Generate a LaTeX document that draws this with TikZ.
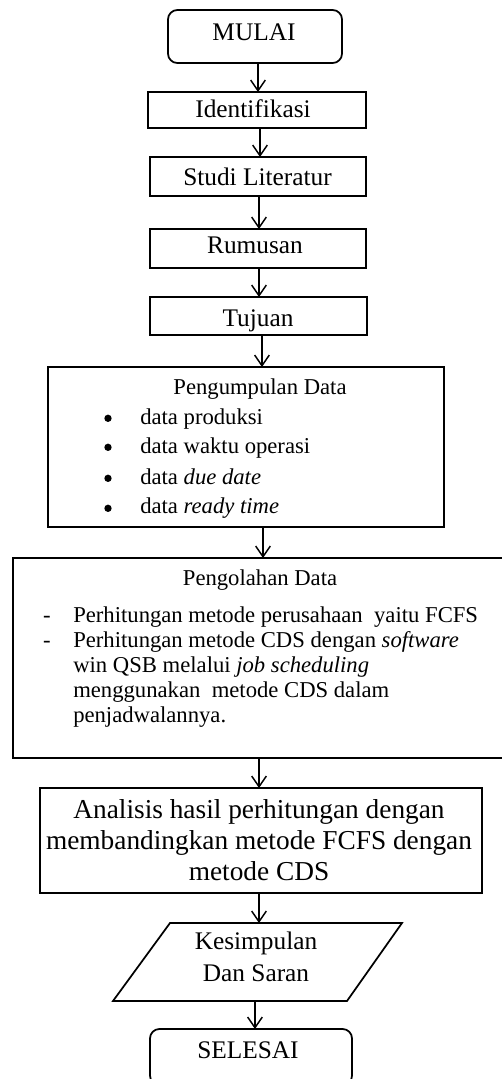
\documentclass[tikz,border=0pt]{standalone}
\usepackage{fontspec}
\setmainfont{Liberation Serif}
\usetikzlibrary{arrows.meta,calc}
\begin{document}
\begin{tikzpicture}[x=0.75pt,y=-0.75pt,
  box/.style={draw, line width=1.3pt, inner sep=0pt, outer sep=0pt},
  rbox/.style={box, rounded corners=7pt},
  lbl/.style={anchor=base, inner sep=0pt, font=\fontsize{19}{22}\selectfont},
  big/.style={anchor=base, inner sep=0pt, font=\fontsize{20.5}{24}\selectfont},
  hdr/.style={anchor=base, inner sep=0pt, font=\fontsize{17}{20}\selectfont},
  item/.style={anchor=base west, inner sep=0pt, font=\fontsize{17}{20}\selectfont},
  dot/.style={circle, fill=black, inner sep=0pt, minimum size=5.5pt},
  arr/.style={draw, line width=1.1pt, -{Straight Barb[length=8pt,width=11pt,line width=1.1pt]}}
]
\clip (0,0) rectangle (502,1079);
\fill[white] (0,0) rectangle (502,1079);

% boxes
\node[rbox, minimum width=174*0.75pt, minimum height=53*0.75pt] (mulai) at (255,36.5) {};
\node[box, minimum width=218*0.75pt, minimum height=36*0.75pt] (idf) at (257,110) {};
\node[box, minimum width=216*0.75pt, minimum height=39*0.75pt] (studi) at (258,176.5) {};
\node[box, minimum width=216*0.75pt, minimum height=39*0.75pt] (rumus) at (258,248.5) {};
\node[box, minimum width=217*0.75pt, minimum height=38*0.75pt] (tujuan) at (258.5,316) {};
\node[box, minimum width=396*0.75pt, minimum height=160*0.75pt] (kumpul) at (246,447) {};
\node[box, minimum width=507*0.75pt, minimum height=200*0.75pt] (olah) at (266.5,658) {};
\node[box, minimum width=442*0.75pt, minimum height=105*0.75pt] (analisis) at (261,840.5) {};
\node[inner sep=0pt, outer sep=0pt, minimum width=232*0.75pt, minimum height=78*0.75pt] (kes) at (257.5,962) {};
\coordinate (k1) at (170,923);
\coordinate (k2) at (402,923);
\coordinate (k3) at (347,1001);
\coordinate (k4) at (113,1001);
\draw[line width=1.3pt] (k1) -- (k2) -- (k3) -- (k4) -- cycle;
\node[rbox, minimum width=202*0.75pt, minimum height=56*0.75pt] (selesai) at (251,1057) {};

% labels
\node[lbl] (tmulai) at (254,40) {MULAI};
\node[lbl] (tidf) at (253,117) {Identifikasi};
\node[lbl] (tstudi) at (257.5,185) {Studi Literatur};
\node[lbl] (trumus) at (255,253) {Rumusan};
\node[lbl] (ttujuan) at (258,326) {Tujuan};

\node[hdr] (hk) at (260,394) {Pengumpulan Data};
\node[dot] (b1) at (108,418.3) {};
\node[dot] (b2) at (108,447.3) {};
\node[dot] (b3) at (108,478.3) {};
\node[dot] (b4) at (108,508.3) {};
\node[item] (i1) at (140,424) {data produksi};
\node[item] (i2) at (140,453) {data waktu operasi};
\node[item] (i3) at (140,484) {data \textit{due date}};
\node[item] (i4) at (140,513) {data \textit{ready time}};

\node[hdr] (ho) at (260,585) {Pengolahan Data};
\node[hdr] (d1) at (47,622) {-};
\node[hdr] (d2) at (47,647) {-};
\node[item] (o1) at (73,622) {Perhitungan metode perusahaan\ \ yaitu FCFS};
\node[item] (o2) at (73,647) {Perhitungan metode CDS dengan \textit{software}};
\node[item] (o3) at (73,672) {win QSB melalui \textit{job scheduling}};
\node[item] (o4) at (73,697) {menggunakan\ \ metode CDS dalam};
\node[item] (o5) at (73,722) {penjadwalannya.};

\node[big] (a1) at (259,818) {Analisis hasil perhitungan dengan};
\node[big] (a2) at (259,849) {membandingkan metode FCFS dengan};
\node[big] (a3) at (259,880) {metode CDS};

\node[lbl] (ks1) at (256,949) {Kesimpulan};
\node[lbl] (ks2) at (256,981) {Dan Saran};

\node[lbl] (tsel) at (248,1058) {SELESAI};

% connectors
\draw[arr] ([xshift=2.25pt]mulai.south) -- ([xshift=2.25pt]mulai.south |- idf.north);
\draw[arr] ([xshift=2.25pt]idf.south) -- ([xshift=2.25pt]idf.south |- studi.north);
\draw[arr] ([xshift=0.75pt]studi.south) -- ([xshift=0.75pt]studi.south |- rumus.north);
\draw[arr] ([xshift=0.75pt]rumus.south) -- ([xshift=0.75pt]rumus.south |- tujuan.north);
\draw[arr] ([xshift=2.6pt]tujuan.south) -- ([xshift=2.6pt]tujuan.south |- kumpul.north);
\draw[arr] ([xshift=12.75pt]kumpul.south) -- ([xshift=12.75pt]kumpul.south |- olah.north);
\draw[arr] ([xshift=-5.6pt]olah.south) -- ([xshift=-5.6pt]olah.south |- analisis.north);
\draw[arr] ([xshift=-1.5pt]analisis.south) -- ([xshift=-1.5pt]analisis.south |- kes.north);
\draw[arr] ([xshift=-1.9pt]kes.south) -- ([xshift=-1.9pt]kes.south |- selesai.north);
\end{tikzpicture}
\end{document}
